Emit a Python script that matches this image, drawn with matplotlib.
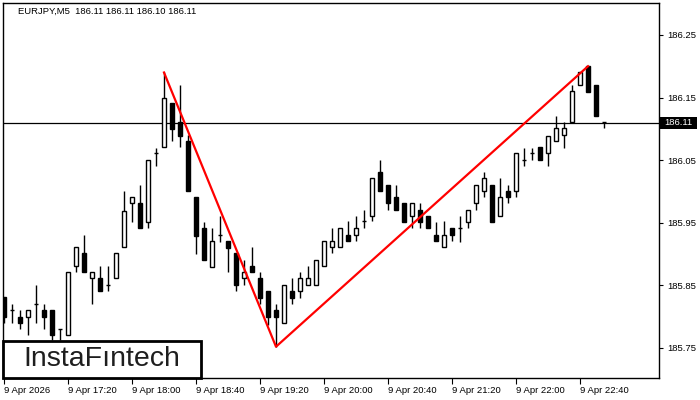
import matplotlib
matplotlib.use("Agg")
import matplotlib.pyplot as plt
from matplotlib.patches import Rectangle

# EURJPY M5 candles, 16:40 .. 22:55
opens = [185.832, 185.811, 185.800, 185.800, 185.821, 185.811, 185.811, 185.781,
         185.770, 185.881, 185.902, 185.861, 185.861, 185.850, 185.861, 185.911,
         185.981, 185.981, 185.951, 186.061, 186.071, 186.141, 186.111, 186.081,
         185.991, 185.941, 185.880, 185.930, 185.921, 185.901, 185.861, 185.881,
         185.861, 185.841, 185.811, 185.790, 185.841, 185.841, 185.851, 185.851,
         185.881, 185.911, 185.911, 185.931, 185.931, 185.952, 185.961, 186.031,
         186.010, 185.991, 185.981, 185.961, 185.970, 185.961, 185.931, 185.911,
         185.941, 185.941, 185.951, 185.981, 186.001, 186.010, 185.961, 186.001,
         186.001, 186.050, 186.061, 186.071, 186.061, 186.081, 186.090, 186.111,
         186.170, 186.200, 186.170, 186.111]
highs = [185.832, 185.821, 185.811, 185.811, 185.851, 185.821, 185.811, 185.781,
         185.871, 185.911, 185.931, 185.871, 185.881, 185.881, 185.901, 186.000,
         185.991, 186.010, 186.050, 186.070, 186.190, 186.141, 186.170, 186.090,
         185.991, 185.951, 185.941, 185.961, 185.921, 185.901, 185.891, 185.911,
         185.871, 185.841, 185.821, 185.851, 185.861, 185.871, 185.881, 185.891,
         185.921, 185.941, 185.941, 185.952, 185.961, 185.970, 186.021, 186.050,
         186.010, 186.010, 185.981, 185.981, 185.981, 185.961, 185.951, 185.952,
         185.941, 185.961, 185.970, 186.010, 186.031, 186.010, 186.021, 186.010,
         186.061, 186.070, 186.070, 186.071, 186.089, 186.121, 186.111, 186.170,
         186.190, 186.200, 186.170, 186.111]
lows = [185.790, 185.790, 185.781, 185.770, 185.790, 185.781, 185.763, 185.763,
        185.770, 185.871, 185.871, 185.821, 185.841, 185.841, 185.861, 185.911,
        185.951, 185.941, 185.941, 186.040, 186.071, 186.080, 186.071, 186.000,
        185.900, 185.890, 185.880, 185.920, 185.871, 185.841, 185.850, 185.871,
        185.821, 185.787, 185.752, 185.790, 185.820, 185.830, 185.851, 185.851,
        185.881, 185.901, 185.911, 185.921, 185.921, 185.941, 185.952, 186.000,
        185.970, 185.970, 185.951, 185.941, 185.941, 185.941, 185.921, 185.911,
        185.921, 185.920, 185.941, 185.970, 185.991, 185.951, 185.961, 185.981,
        185.991, 186.040, 186.050, 186.050, 186.040, 186.081, 186.070, 186.111,
        186.170, 186.159, 186.120, 186.101]
closes = [185.800, 185.811, 185.790, 185.811, 185.821, 185.800, 185.770, 185.781,
          185.871, 185.911, 185.871, 185.871, 185.841, 185.850, 185.901, 185.969,
          185.991, 185.941, 186.050, 186.061, 186.150, 186.100, 186.089, 186.000,
          185.929, 185.890, 185.921, 185.930, 185.910, 185.850, 185.871, 185.871,
          185.830, 185.800, 185.800, 185.851, 185.830, 185.861, 185.861, 185.891,
          185.921, 185.921, 185.941, 185.921, 185.941, 185.952, 186.021, 186.000,
          185.981, 185.970, 185.951, 185.981, 185.951, 185.941, 185.921, 185.931,
          185.931, 185.941, 185.970, 186.010, 186.021, 185.951, 185.991, 185.991,
          186.061, 186.050, 186.061, 186.050, 186.089, 186.101, 186.101, 186.161,
          186.190, 186.159, 186.120, 186.111]

# pattern (red lines) anchors: candle index / price
pattern_idx = [20, 34, 73]
pattern_price = [186.190, 185.752, 186.200]

last_price = 186.11
price_ticks = [185.75, 185.85, 185.95, 186.05, 186.15, 186.25]
time_labels = ["9 Apr 2026", "9 Apr 17:20", "9 Apr 18:00", "9 Apr 18:40", "9 Apr 19:20",
               "9 Apr 20:00", "9 Apr 20:40", "9 Apr 21:20", "9 Apr 22:00", "9 Apr 22:40"]
FONT = "Liberation Sans"
YLIM = (185.702, 186.301)

fig = plt.figure(figsize=(7, 4), dpi=100)
ax = fig.add_axes([3 / 700, 22 / 400, 656 / 700, 375 / 400])

for i, (o, h, l, c) in enumerate(zip(opens, highs, lows, closes)):
    ax.vlines(i, l, h, color="black", lw=1, zorder=2)
    face = "white" if c >= o else "black"
    ax.add_patch(Rectangle((i - 0.3, min(o, c)), 0.6, abs(c - o), facecolor=face,
                           edgecolor="black", lw=1, zorder=3))

ax.plot(pattern_idx, pattern_price, color="#ff0000", lw=1.6, zorder=4)
ax.axhline(last_price, color="black", lw=0.9, zorder=1)

ax.set_xlim(-0.125, 81.875)
ax.set_ylim(*YLIM)

ax.yaxis.tick_right()
ax.set_yticks(price_ticks)
ax.set_yticklabels([f"{p:.2f}" for p in price_ticks], fontsize=6.8, family=FONT)
ax.set_xticks(range(0, 8 * len(time_labels), 8))
ax.set_xticklabels(time_labels, fontsize=6.8, family=FONT, ha="left")
ax.tick_params(axis="y", length=3, width=0.8, pad=3)
ax.tick_params(axis="x", length=4, width=0.8, pad=2)
for s in ax.spines.values():
    s.set_linewidth(1)

# current price tag on the right axis
frac = (last_price - YLIM[0]) / (YLIM[1] - YLIM[0])
tag_y = (22 + 375 * frac) / 400
fig.patches.append(Rectangle((660 / 700, tag_y - 6 / 400), 37 / 700, 12 / 400,
                             transform=fig.transFigure, facecolor="black",
                             edgecolor="none", zorder=10))
fig.text(678.5 / 700, tag_y, "186.11", fontsize=6.8, family=FONT, color="white",
         ha="center", va="center", zorder=11)

fig.text(18 / 700, 1 - 11 / 400, "EURJPY,M5  186.11 186.11 186.10 186.11",
         fontsize=6.8, family=FONT, va="center", ha="left")

# logo box
fig.patches.append(Rectangle((3 / 700, 22 / 400), 198 / 700, 37 / 400,
                             transform=fig.transFigure, facecolor="white",
                             edgecolor="black", lw=2, zorder=10))
fig.text(102 / 700, 1 - 359 / 400, "InstaF\u0131ntech", fontsize=20.5, family=FONT,
         color="#1e1e1e", ha="center", va="center", zorder=11)

fig.savefig("out.png", dpi=100)
